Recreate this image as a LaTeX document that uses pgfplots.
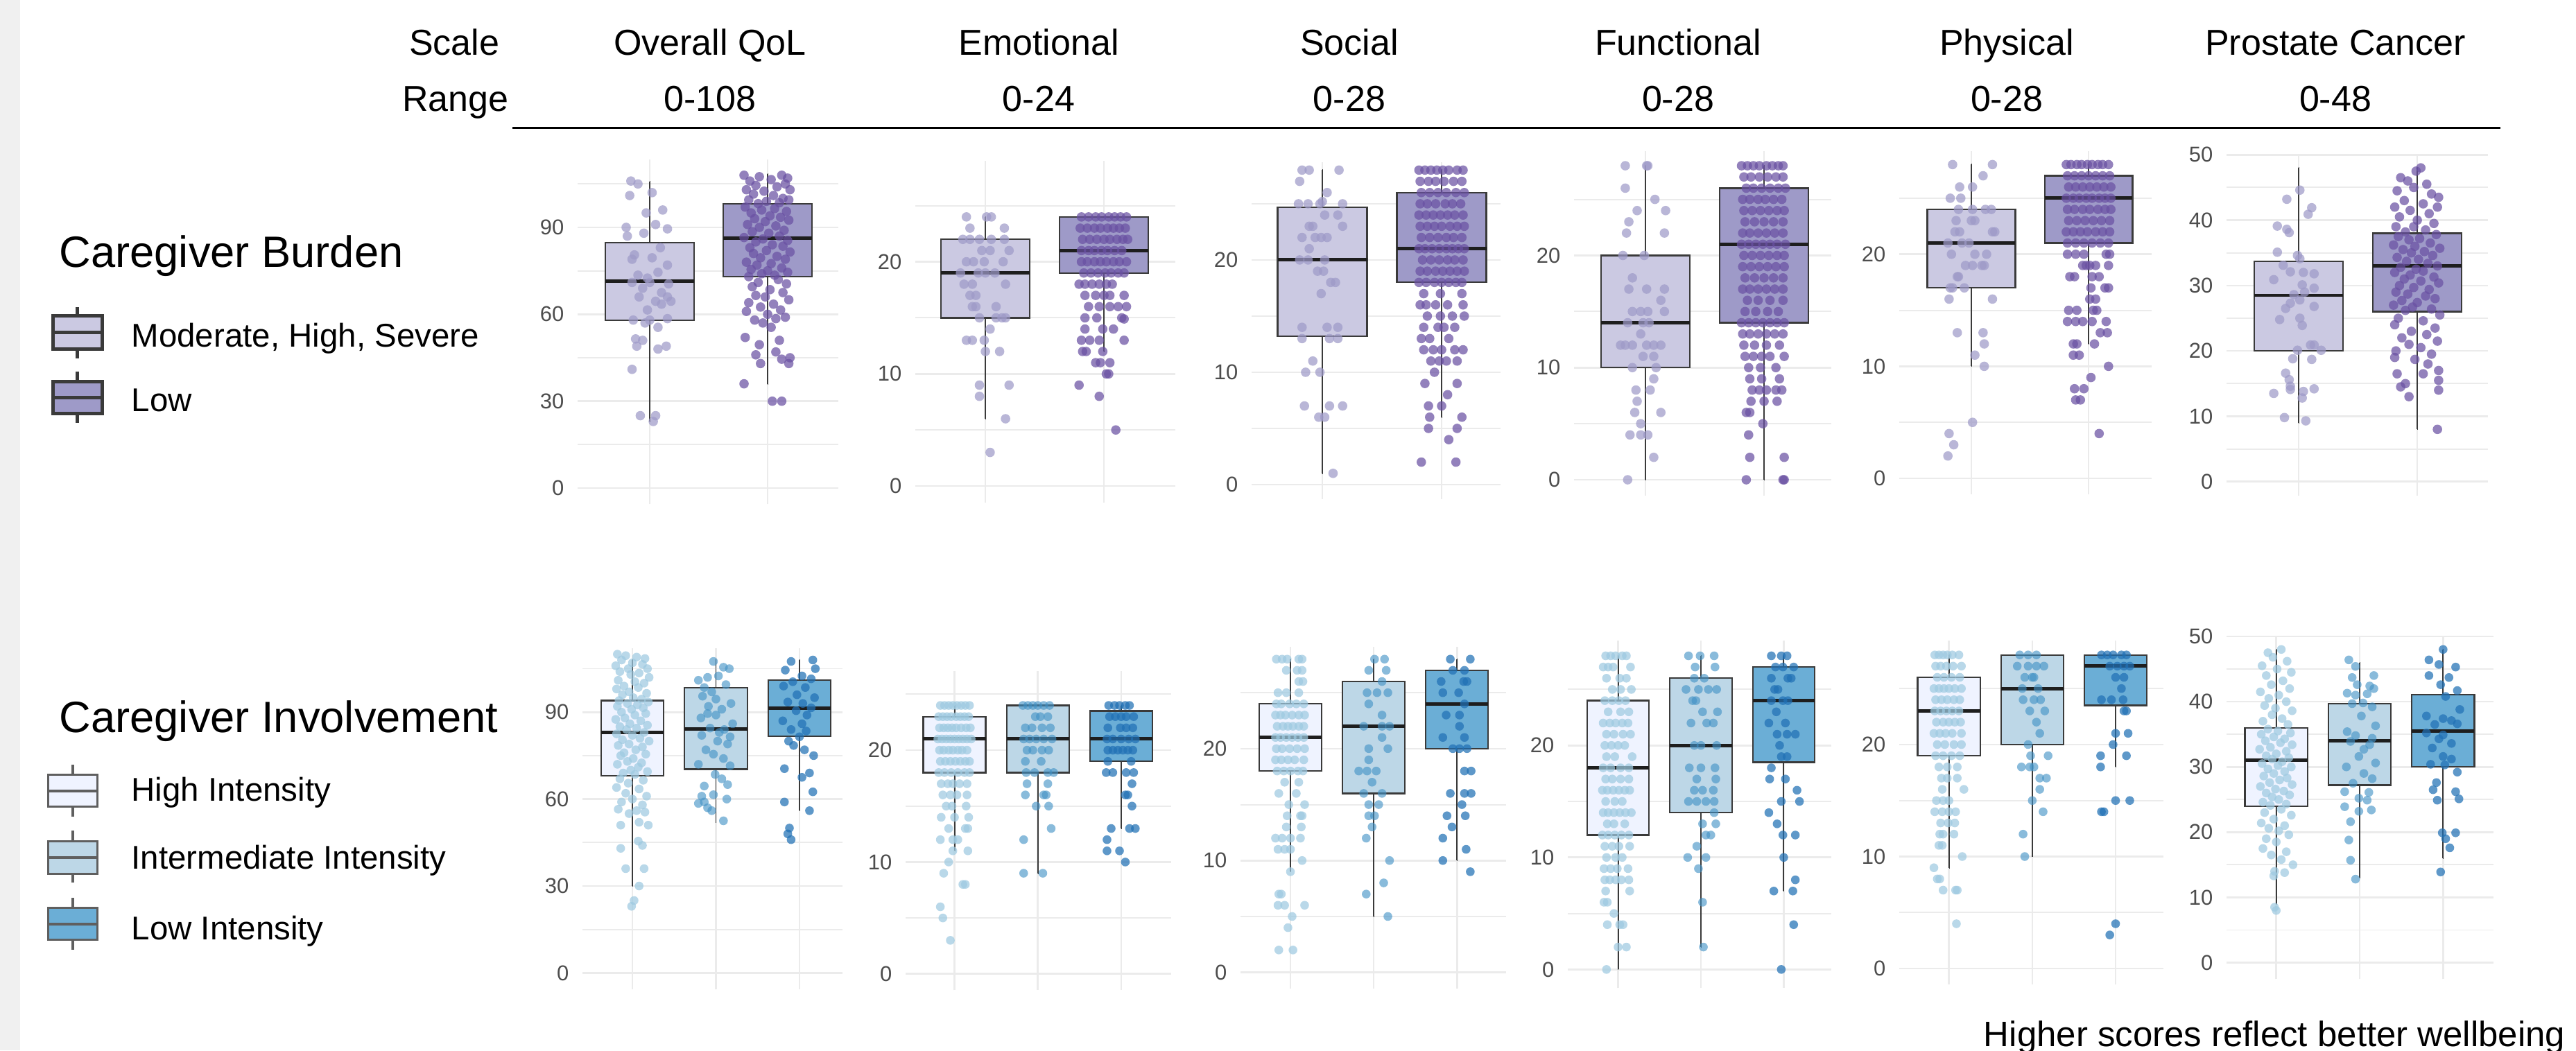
\documentclass[border=0pt]{standalone}
\usepackage{fontspec}
\setmainfont{Liberation Sans}
\usepackage{pgfplots}
\pgfplotsset{compat=1.18}
\usepgfplotslibrary{statistics}
\definecolor{gridc}{HTML}{EBEBEB}
\definecolor{tickc}{HTML}{4D4D4D}
\definecolor{boxc}{HTML}{3A3A3A}
\definecolor{medc}{HTML}{1E1E1E}
\definecolor{keyA}{HTML}{3A3A3A}
\definecolor{keyB}{HTML}{5F5F5F}
\definecolor{stripc}{HTML}{F0F0F0}
\definecolor{fMod}{HTML}{CBC9E2}
\definecolor{fLow}{HTML}{9E9AC8}
\definecolor{pMod}{HTML}{9E9AC8}
\definecolor{pLow}{HTML}{6A51A3}
\definecolor{fHi}{HTML}{EFF3FF}
\definecolor{fInt}{HTML}{BDD7E7}
\definecolor{fLo}{HTML}{6BAED6}
\definecolor{pHi}{HTML}{9ECAE1}
\definecolor{pInt}{HTML}{4292C6}
\definecolor{pLo}{HTML}{2171B5}
\newcommand\hdr{\fontsize{14.8}{16}\selectfont}
\newcommand\lgt{\fontsize{18}{20}\selectfont}
\newcommand\lgl{\fontsize{13.5}{15}\selectfont}
\newcommand\tickf{\fontsize{8.8}{9}\selectfont}
\newcommand\foot{\fontsize{14.5}{16}\selectfont}
\pgfplotsset{
 boxplot/draw direction=y,
 boxplot/box extend=0.75,
 boxplot/every median/.style={draw=medc, line width=1.4pt},
 boxplot/every whisker/.style={line width=0.55pt},
 qp/.style={scale only axis, anchor=south west, axis line style={draw=none},
  tick style={draw=none}, major tick length=0pt, minor tick length=0pt,
  xmajorgrids, ymajorgrids, yminorgrids,
  major grid style={draw=gridc, line width=0.75pt},
  minor grid style={draw=gridc, line width=0.55pt},
  xticklabels={},
  yticklabel style={font=\tickf, text=tickc, inner sep=0pt, xshift=-1.9mm},
  /pgf/number format/assume math mode=true},
 q30/.style={ytick={0,30,60,90}, minor ytick={15,45,75,105}},
 q10/.style={ytick={0,10,20}, minor ytick={5,15,25}},
 q50/.style={ytick={0,10,20,30,40,50}, minor ytick={5,15,25,35,45}},
 pts/.style n args={2}{only marks, mark=*, color=#1, mark options={solid, draw=#1, fill=#1, line width=0pt, draw opacity=0, fill opacity=#2}},
 pM/.style={pts={pMod}{0.72}, mark size=0.68mm},
 pL/.style={pts={pLow}{0.72}, mark size=0.68mm},
 pH/.style={pts={pHi}{0.72}, mark size=0.63mm},
 pI/.style={pts={pInt}{0.62}, mark size=0.63mm},
 pO/.style={pts={pLo}{0.72}, mark size=0.63mm},
}
\newcommand\bp[7]{\addplot[draw=boxc, line width=0.65pt, fill=#7, boxplot prepared={draw direction=y, draw position=#1, lower whisker=#2, lower quartile=#3, median=#4, upper quartile=#5, upper whisker=#6, box extend=0.75, whisker extend=0.001}] coordinates {};}
\begin{document}
\begin{tikzpicture}
\useasboundingbox (0,0) rectangle (371.5mm,-151.5mm);
\clip (0,0) rectangle (371.5mm,-151.5mm);
\begin{scope}[x=0.1mm,y=-0.1mm]
\fill[white] (0,0) rectangle (3715,1515);
\fill[stripc] (0,0) rectangle (29,1515);
\node[anchor=base east, inner sep=0pt, font=\hdr] at (721,79) {Scale};
\node[anchor=base east, inner sep=0pt, font=\hdr] at (734,160) {Range};
\foreach \cx/\nm/\rg in {1024/Overall QoL/0-108, 1498/Emotional/0-24, 1946/Social/0-28, 2420/Functional/0-28, 2894/Physical/0-28, 3368/Prostate Cancer/0-48}{
 \node[anchor=base, inner sep=0pt, font=\hdr] at (\cx,79) {\nm};
 \node[anchor=base, inner sep=0pt, font=\hdr] at (\cx,160) {\rg};
}
\draw[line width=0.3mm] (739,184) -- (3606,184);
\node[anchor=base west, inner sep=0pt, font=\lgt] at (85,385) {Caregiver Burden};
\draw[line width=0.5mm, keyA, fill=fMod] (76,455) rectangle (147,503);
\draw[line width=0.5mm, keyA] (76,479) -- (147,479) (111.5,443) -- (111.5,455) (111.5,503) -- (111.5,517);
\draw[line width=0.5mm, keyA, fill=fLow] (76,550) rectangle (147,596);
\draw[line width=0.5mm, keyA] (76,573) -- (147,573) (111.5,536) -- (111.5,550) (111.5,596) -- (111.5,610);
\node[anchor=base west, inner sep=0pt, font=\lgl] at (189,500) {Moderate, High, Severe};
\node[anchor=base west, inner sep=0pt, font=\lgl] at (189,593) {Low};
\node[anchor=base west, inner sep=0pt, font=\lgt] at (85,1056) {Caregiver Involvement};
\draw[line width=0.33mm, keyB, fill=fHi] (69.5,1117.5) rectangle (140.5,1163.5);
\draw[line width=0.33mm, keyB] (69.5,1141) -- (140.5,1141) (105,1103) -- (105,1117.5) (105,1163.5) -- (105,1178);
\draw[line width=0.33mm, keyB, fill=fInt] (69.5,1213.5) rectangle (140.5,1260.5);
\draw[line width=0.33mm, keyB] (69.5,1237) -- (140.5,1237) (105,1198) -- (105,1213.5) (105,1260.5) -- (105,1273);
\draw[line width=0.33mm, keyB, fill=fLo] (69.5,1309.5) rectangle (140.5,1355.5);
\draw[line width=0.33mm, keyB] (69.5,1333) -- (140.5,1333) (105,1295) -- (105,1309.5) (105,1355.5) -- (105,1370);
\node[anchor=base west, inner sep=0pt, font=\lgl] at (189,1155) {High Intensity};
\node[anchor=base west, inner sep=0pt, font=\lgl] at (189,1253) {Intermediate Intensity};
\node[anchor=base west, inner sep=0pt, font=\lgl] at (189,1355) {Low Intensity};
\node[anchor=base east, inner sep=0pt, font=\foot] at (3700,1509) {Higher scores reflect better wellbeing};
\end{scope}

% ===== T1 Overall QoL
\begin{axis}[qp, q30, at={(83.3mm,-72.7mm)}, width=37.6mm, height=49.7mm, xmin=0.388, xmax=2.6, ymin=-5.5, ymax=113.45, xtick={1,2}]
\bp{1}{23}{58}{71.4}{84.7}{105.8}{fMod}
\bp{2}{36}{73}{86.3}{98.1}{108.5}{fLow}
\addplot[pM] coordinates {(0.84,106)(0.90,105)(0.83,101)(1.02,102)(0.97,95)(1.11,96)(0.80,90)(1.05,91)(1.15,89.5)(0.81,87)(0.95,88)(1.09,83)(0.85,79)(0.87,80.5)(1.02,79.5)(1.15,77)(0.90,73.5)(0.98,72.5)(1.07,74.5)(0.85,71)(1.0,71)(1.16,70.5)(0.94,69)(1.10,67.5)(0.91,66)(1.15,66)(1.10,63.5)(1.05,64.5)(1.18,64.5)(0.98,61.5)(0.86,58)(1.0,58)(1.15,58.5)(0.96,57)(1.07,55.5)(0.88,51.5)(0.94,51)(0.89,49)(1.07,48)(1.14,49)(0.85,41)(0.92,25)(1.05,25)(1.03,23)};
\addplot[pL] coordinates {(1.80,108)(1.93,107.5)(2.12,108)(2.17,107)(1.85,106)(2.03,106.5)(2.15,105)(1.90,104.5)(2.08,104)(1.82,103)(1.97,102.5)(2.19,103)(1.88,101.5)(2.05,101)(2.13,100)(1.84,99.5)(1.99,99)(2.10,98.5)(2.18,99.5)(1.92,98.2)
(1.81,97)(2.06,96.5)(1.95,96)(2.16,95.5)(1.86,95)(2.02,94)(2.11,93.5)(1.89,93)(1.98,92)(2.18,92.5)(1.83,91)(2.07,90.5)(1.93,90)(2.14,89)(1.87,88.5)(2.01,88)(2.10,87)(1.80,86.5)(1.96,86)(2.17,85.5)(1.90,85)(2.04,84)(2.13,83.5)(1.85,83)(1.99,82)(2.19,81.5)(1.88,81)(2.08,80)(1.94,79.5)(2.15,79)(1.82,78)(2.03,77.5)(1.91,77)(2.12,76)(1.86,75.5)(2.00,75)(2.17,74.5)(1.95,74)(2.06,73.5)(1.84,73)
(2.09,72)(1.92,71)(2.16,70.5)(1.87,69.5)(2.02,68.5)(2.13,67.5)(1.90,66.5)(1.98,66)(2.18,65)(1.84,64)(2.05,63.5)(1.94,62.5)(2.11,61.5)(1.82,61)(2.00,60)(2.15,59)(1.89,58)(2.07,58.5)(1.96,57)(2.03,55.5)(1.81,52)(2.10,51)(1.93,49.5)(2.07,47)(1.90,46)(2.12,44.5)(2.19,45)(2.18,43)(1.94,43)(1.80,36)(2.04,30)(2.12,30)};
\end{axis}

% ===== T2 Emotional
\begin{axis}[qp, q10, at={(132.0mm,-72.5mm)}, width=37.5mm, height=49.3mm, xmin=0.409, xmax=2.602, ymin=-1.48, ymax=29.0, xtick={1,2}]
\bp{1}{6}{15}{19}{22}{24}{fMod}
\bp{2}{12}{19}{21}{24}{24}{fLow}
\addplot[pM] coordinates {(0.84,24)(1.01,24)(1.05,24)(0.87,23)(1.16,23)(0.81,22)(0.87,22)(0.95,22)(1.05,22)(1.16,22)(0.97,21)(1.04,21)(1.20,21)(0.84,20)(0.90,20)(0.99,20)(1.15,20)(0.79,19)(0.94,19)(1.0,19)(1.08,19)(0.82,18)(0.89,18)(1.17,18)(0.87,17)(0.92,17)(0.89,16)(1.09,16)(0.92,16)(0.95,15)(1.09,15)(1.14,15)(1.17,15)(1.04,14)(0.84,13)(0.89,13)(0.99,13)(1.0,12)(1.12,12)(0.95,9)(1.2,9)(0.95,8)(1.17,6)(1.04,3)};
\addplot[pL] coordinates {(1.81,24)(1.87,24)(1.93,24)(1.98,24)(2.04,24)(2.09,24)(2.14,24)(2.19,24)
(1.80,23)(1.86,23)(1.92,23)(1.97,23)(2.03,23)(2.08,23)(2.13,23)(2.18,23)
(1.82,22)(1.88,22)(1.94,22)(2.0,22)(2.05,22)(2.11,22)(2.16,22)(2.2,22)
(1.81,21)(1.87,21)(1.92,21)(1.98,21)(2.03,21)(2.09,21)(2.15,21)
(1.81,20)(1.86,20)(1.92,20)(1.97,20)(2.02,20)(2.08,20)(2.13,20)(2.19,20)
(1.83,19)(1.89,19)(1.95,19)(2.01,19)(2.06,19)(2.12,19)(2.17,19)
(1.79,18)(1.84,18)(1.9,18)(1.96,18)(2.02,18)(2.07,18)
(1.84,17)(1.93,17)(2.0,17)(2.05,17)(2.17,17)
(1.87,16)(1.96,16)(2.05,16)(2.12,16)(2.19,16)
(1.84,15)(1.94,15)(2.15,15)(2.17,14.9)
(1.84,14)(1.99,14)(2.08,14)
(1.81,13)(1.88,13)(1.96,13)(2.17,13)
(1.82,12)(1.85,12)(1.99,12)
(1.93,11)(1.97,11)(2.05,11)
(2.02,10)(2.04,10)(1.79,9)(1.96,8)(2.1,5)};
\end{axis}

% ===== T3 Social
\begin{axis}[qp, q10, at={(180.5mm,-72.0mm)}, width=35.9mm, height=48.6mm, xmin=0.407, xmax=2.494, ymin=-1.3, ymax=28.7, xtick={1,2}]
\bp{1}{1}{13.2}{20}{24.7}{28}{fMod}
\bp{2}{6}{18}{21}{26}{28}{fLow}
\addplot[pM] coordinates {(0.83,28)(0.89,28)(1.14,28)(0.81,27)(1.04,26)(0.80,25)(0.88,25)(0.98,25)(1.0,25.2)(1.17,25)(1.02,24)(1.13,24)(0.89,23)(0.92,23)(1.17,23)(0.83,22)(0.94,22)(0.99,22)(1.04,22)(0.89,21)(0.81,20)(0.88,20)(1.02,20)(0.96,19)(1.01,19)(1.07,18)(1.11,18)(0.99,17)(0.83,14)(1.04,14)(1.13,14)(0.83,13)(1.06,13)(1.13,13)(0.92,11)(0.86,10)(0.98,10)(0.85,7)(1.06,7)(1.17,7)(0.97,6)(1.02,6)(1.09,1)};
\addplot[pL] coordinates {(1.81,28)(1.86,28)(1.91,28)(1.96,28)(2.01,28)(2.06,28)(2.13,28)(2.18,28)
(1.82,27)(1.89,27)(1.95,27)(2.02,27)(2.1,27)(2.17,27)
(1.83,26)(1.9,26)(1.97,26)(2.04,26)(2.12,26)(2.19,26)
(1.82,25)(1.88,25)(1.95,25)(2.03,25)(2.09,25)(2.16,25)
(1.81,24)(1.87,24)(1.93,24)(1.99,24)(2.05,24)(2.11,24)(2.18,24)
(1.82,23)(1.88,23)(1.94,23)(2.0,23)(2.07,23)(2.13,23)(2.19,23)
(1.83,22)(1.9,22)(1.97,22)(2.04,22)(2.1,22)(2.17,22)
(1.81,21)(1.86,21)(1.92,21)(1.98,21)(2.04,21)(2.09,21)(2.14,21)(2.19,21)
(1.84,20)(1.91,20)(1.98,20)(2.05,20)(2.11,20)(2.18,20)
(1.82,19)(1.88,19)(1.95,19)(2.01,19)(2.07,19)(2.13,19)(2.19,19)
(1.81,18)(1.87,18)(1.94,18)(2.0,18)(2.06,18)(2.12,18)(2.17,18)
(1.85,17)(1.99,17)(2.17,17)
(1.82,16)(1.87,16)(1.95,16)(2.05,16)(2.18,16)
(1.88,15)(1.99,15)(2.09,15)(2.19,15)
(1.85,14)(1.97,14)(2.02,14)(2.11,14)
(1.83,13)(1.9,13)(2.06,13)
(1.85,12)(1.93,12)(2.0,12)(2.11,12)(2.18,12)
(1.91,11)(1.98,11)(2.04,11)(2.13,11)
(1.94,10)(1.86,9)(2.13,9)(2.05,8)(1.89,7)(2.0,7)(1.9,6)(2.17,6)(1.89,5)(2.13,5)(2.06,4)(1.83,2)(2.12,2)};
\end{axis}

% ===== T4 Functional
\begin{axis}[qp, q10, at={(227.0mm,-71.5mm)}, width=37.1mm, height=49.7mm, xmin=0.398, xmax=2.567, ymin=-1.42, ymax=29.3, xtick={1,2}]
\bp{1}{0}{10}{14}{20}{28}{fMod}
\bp{2}{0}{14}{21}{26}{28}{fLow}
\addplot[pM] coordinates {(0.83,28)(1.01,28)(1.02,28)(0.83,26)(1.08,25)(0.93,24)(1.17,24)(0.86,23)(0.84,22)(1.16,22)(0.81,20)(0.99,20)(0.89,18)(0.86,17)(1.01,17)(1.16,17)(1.13,16)(0.89,15)(0.96,15)(1.02,15)(1.16,15)(0.85,14)(0.98,14)(1.03,14)(0.96,13)(0.79,12)(0.83,12)(0.89,12)(1.01,12)(1.07,12)(1.13,12)(0.98,11)(1.07,11)(0.89,10)(1.09,10)(1.07,9)(0.92,8)(1.04,8)(0.93,7)(0.91,6)(1.13,6)(0.96,5)(0.87,4)(0.96,4)(1.02,4)(1.07,2)(0.85,0)};
\addplot[pL] coordinates {(1.81,28)(1.86,28)(1.91,28)(1.96,28)(2.02,28)(2.07,28)(2.12,28)(2.16,28)
(1.83,27)(1.89,27)(1.96,27)(2.03,27)(2.1,27)(2.16,27)
(1.85,26)(1.91,26)(1.98,26)(2.05,26)(2.12,26)(2.18,26)
(1.82,25)(1.88,25)(1.95,25)(2.01,25)(2.08,25)(2.15,25)
(1.83,24)(1.9,24)(1.97,24)(2.04,24)(2.11,24)(2.17,24)
(1.84,23)(1.92,23)(2.0,23)(2.08,23)(2.16,23)
(1.82,22)(1.88,22)(1.95,22)(2.02,22)(2.09,22)(2.16,22)
(1.81,21)(1.87,21)(1.93,21)(1.99,21)(2.05,21)(2.11,21)(2.18,21)
(1.83,20)(1.9,20)(1.97,20)(2.04,20)(2.11,20)(2.17,20)
(1.82,19)(1.89,19)(1.96,19)(2.03,19)(2.1,19)(2.17,19)
(1.84,18)(1.92,18)(2.0,18)(2.08,18)(2.16,18)
(1.82,17)(1.88,17)(1.95,17)(2.02,17)(2.09,17)(2.16,17)
(1.86,16)(1.95,16)(2.05,16)(2.16,16)
(1.84,15)(1.93,15)(2.03,15)(2.12,15)
(1.81,14)(1.87,14)(1.93,14)(1.99,14)(2.05,14)(2.11,14)(2.17,14)
(1.82,13)(1.88,13)(1.95,13)(2.02,13)(2.09,13)(2.16,13)
(1.83,12)(1.92,12)(2.02,12)(2.13,12)
(1.84,11)(1.91,11)(1.98,11)(2.05,11)(2.17,11)
(1.87,10)(1.97,10)(2.1,10)
(1.88,9)(1.98,9)(2.13,9)
(1.9,8)(1.96,8)(2.02,8)(2.1,8)(2.15,8)
(1.89,7)(2.0,7)(2.11,7)
(1.85,6)(1.88,6)(1.99,5)(1.87,4)(1.88,2)(2.17,2)(1.85,0)(2.16,0)(2.17,0)};
\end{axis}

% ===== T5 Physical
\begin{axis}[qp, q10, at={(273.9mm,-71.3mm)}, width=36.4mm, height=49.5mm, xmin=0.385, xmax=2.538, ymin=-1.42, ymax=29.2, xtick={1,2}]
\bp{1}{10}{17}{21}{24}{28}{fMod}
\bp{2}{12}{21}{25}{27}{28}{fLow}
\addplot[pM] coordinates {(0.84,28)(1.18,28)(1.10,27)(0.90,26)(1.01,26)(0.82,25)(0.91,25)(0.89,24)(1.01,24)(1.12,24)(1.17,24)(0.87,23)(1.0,23)(1.03,23)(0.86,22)(0.90,22)(1.18,22)(1.2,22)(0.80,21)(0.92,21)(0.98,21)(0.83,20)(1.03,20)(1.13,20)(0.95,19)(1.01,19)(1.09,19)(1.11,19)(0.88,18)(0.89,18)(0.82,17)(0.84,17)(0.94,17)(0.81,16)(1.18,16)(0.88,13)(1.10,13)(1.11,12)(1.03,11)(1.11,10)(1.01,5)(0.81,4)(0.85,3)(0.80,2)};
\addplot[pL] coordinates {(1.81,28)(1.85,28)(1.9,28)(1.94,28)(1.99,28)(2.03,28)(2.08,28)(2.12,28)(2.17,28)
(1.82,27)(1.88,27)(1.94,27)(2.0,27)(2.06,27)(2.12,27)(2.18,27)
(1.83,26)(1.89,26)(1.95,26)(2.01,26)(2.07,26)(2.13,26)(2.19,26)
(1.81,25)(1.87,25)(1.92,25)(1.98,25)(2.03,25)(2.09,25)(2.14,25)(2.19,25)
(1.82,24)(1.88,24)(1.95,24)(2.01,24)(2.08,24)(2.14,24)(2.19,24)
(1.83,23)(1.9,23)(1.97,23)(2.04,23)(2.11,23)(2.18,23)
(1.81,22)(1.87,22)(1.93,22)(1.99,22)(2.06,22)(2.12,22)(2.18,22)
(1.82,21)(1.89,21)(1.96,21)(2.03,21)(2.1,21)(2.17,21)
(1.82,20)(1.89,20)(1.96,20)(2.15,20)(2.18,20)
(1.95,19)(1.98,19)(2.01,19)(2.06,19)(2.17,19)
(1.84,18)(1.88,18)(2.03,18)(2.09,18)
(2.02,17)(2.14,17)(2.17,17)
(2.01,16)(2.06,16)
(1.83,15)(1.9,15)(2.04,15)(2.07,15)
(1.82,14)(1.89,14)(1.95,14)(2.03,14)(2.15,14)
(2.1,13)(2.16,13)
(1.87,12)(1.9,12)(2.05,12)
(1.87,11)(1.92,11)
(2.17,10)(2.02,9)(1.88,8)(1.96,8)(1.89,7)(1.93,7)(2.09,4)};
\end{axis}

% ===== T6 Prostate Cancer
\begin{axis}[qp, q50, at={(321.1mm,-71.5mm)}, width=37.7mm, height=49.2mm, xmin=0.392, xmax=2.596, ymin=-2.15, ymax=50.03, xtick={1,2}]
\bp{1}{9}{20}{28.5}{33.7}{48}{fMod}
\bp{2}{8}{26}{33}{38}{48}{fLow}
\addplot[pM] coordinates {(1.01,44.6)(0.90,43.2)(1.11,41.9)(1.08,40.9)(0.82,39.1)(0.90,38.6)(0.92,38.1)(0.82,35.1)(0.99,34.6)(1.01,34.1)(0.87,33.1)(0.93,32.1)(1.04,32)(1.13,31.8)(0.79,30.9)(1.03,30.1)(1.13,29.6)(1.05,29)(0.96,28.6)(0.93,27.3)(1.01,27.8)(0.89,26.5)(1.13,26.8)(0.84,24.8)(1.01,25)(1.03,23.9)(0.99,20.1)(1.10,20.9)(1.19,20.1)(1.13,20.9)(0.95,18.8)(1.11,18.7)(0.89,16.6)(0.92,15.6)(0.93,14.6)(0.79,13.5)(0.93,14.1)(1.04,13.8)(1.13,14.2)(1.03,12.8)(0.88,9.8)(1.06,9.3)};
\addplot[pL] coordinates {(2.03,48)(1.99,47.5)(1.86,46.5)(1.92,46)(2.08,45.5)(1.97,45)(1.83,44.5)(2.12,44)(2.18,43.5)(1.89,43)(2.05,42.5)(1.81,42)(2.17,42)(1.94,41.5)(2.1,41)(1.85,40.5)(2.0,40)(2.14,39.5)(1.82,39)(1.97,39)(2.07,38.5)(1.9,38.2)
(2.16,37.8)(1.84,37.5)(2.02,37.2)(1.93,37)(2.11,36.5)(1.8,36.2)(1.98,36)(2.19,35.7)(1.88,35.5)(2.06,35.2)(1.95,35)(2.13,34.6)(1.83,34.3)(2.01,34)(1.91,33.7)(2.09,33.4)(2.17,33)(1.86,32.8)(1.99,32.5)(2.05,32.2)(1.81,32)(1.94,31.6)(2.14,31.3)(1.89,31)(2.03,30.7)(2.18,30.4)(1.85,30)(1.97,29.7)(2.1,29.4)(1.82,29)(1.92,28.7)(2.07,28.4)(2.15,28)(1.87,27.7)(2.0,27.4)(1.8,27)(1.96,26.7)(2.12,26.4)(1.9,26.2)
(2.19,25.5)(1.84,25)(2.05,24.6)(1.81,24)(2.15,23.5)(1.95,23)(2.08,22.5)(1.87,22)(2.17,21.5)(1.93,21)(2.03,20.5)(1.82,20)(2.12,19.5)(1.81,19)(1.98,18.7)(2.09,18)(2.18,17)(2.05,16.5)(2.18,15.5)(1.83,16.5)(1.86,14.5)(1.9,15)(2.18,14)(1.93,13)(2.17,8)};
\end{axis}

% ===== B1 Overall QoL
\begin{axis}[qp, q30, at={(84.0mm,-142.7mm)}, width=37.5mm, height=49.2mm, xmin=0.402, xmax=3.515, ymin=-5.65, ymax=112.06, xtick={1,2,3}]
\bp{1}{30}{68}{83}{94}{108}{fHi}
\bp{2}{52}{70.3}{84.2}{98.4}{108}{fInt}
\bp{3}{56}{81.7}{91.3}{101.1}{108}{fLo}
\addplot[pH] coordinates {(0.82,110)(0.92,109.5)(1.05,109)(1.15,108.5)(0.87,108)(1.0,107)(1.12,106.5)(0.8,106)(0.95,105)(1.18,105)(0.85,104)(1.08,103.5)(0.98,103)(1.2,102)(0.83,101)(1.03,100.5)(1.14,100)(0.9,99)(1.07,98.5)(0.81,98)(0.96,97)(1.17,96.5)(0.88,96)(1.01,95)(1.11,94.5)(0.84,94)
(1.19,93.5)(0.94,93)(1.06,92.5)(0.82,92)(1.13,91.5)(0.99,91)(0.87,90)(1.16,89.5)(1.03,89)(0.91,88)(0.8,87.5)(1.1,87)(0.97,86)(1.18,85.5)(0.85,85)(1.05,84.5)(0.93,84)(1.14,83)(0.81,82.5)(1.0,82)(1.09,81)(0.88,80.5)(1.2,80)(0.96,79)(0.83,78.5)(1.12,78)(1.04,77)(0.9,76)(1.16,75.5)(0.86,75)(1.01,74)(0.94,73)(1.11,72.5)(0.82,72)(1.07,71)(0.98,70)(1.18,69.5)(0.89,69)(1.03,68.5)
(0.85,67)(1.13,66.5)(0.95,65.5)(0.81,64)(1.08,63.5)(0.92,62)(1.17,61)(1.0,60)(0.87,59)(1.12,58)(0.83,56.5)(1.05,56)(0.96,55)(1.15,55.5)(0.86,51)(1.19,51)(1.08,52)(0.86,43)(1.12,44)(1.07,45.5)(0.92,36)(1.14,36)(1.08,30)(1.02,25)(0.99,23)};
\addplot[pI] coordinates {(1.97,107.5)(2.16,105)(2.09,105.5)(1.9,102)(2.03,102.5)(1.79,101)(2.12,99.5)(1.86,98.5)(1.95,97)(1.84,95.5)(2.0,94.5)(2.18,93)(1.91,92)(2.07,91)(1.9,89.5)(2.0,89)(1.82,88)(2.2,86)(1.93,84.5)(2.1,84)(2.04,83)(1.83,82)(2.17,81.5)(2.02,80)(2.14,79)(1.88,77)(1.97,75.5)(2.09,74)(1.79,72)(2.17,71.5)(1.99,68.5)(2.07,67)(1.86,64.5)(2.14,65)(1.97,61.5)(1.83,61)(2.13,60)(1.79,58.5)(1.86,59)(1.9,57)(1.95,56)(2.09,52.5)};
\addplot[pO] coordinates {(2.9,107.5)(3.16,108)(3.19,105)(2.83,104.5)(3.03,102.5)(3.14,101.5)(2.92,100.5)(2.81,99)(3.07,98.5)(2.97,96)(3.18,95)(2.86,93.5)(3.04,93)(3.14,91.5)(2.96,90.5)(3.09,89)(2.8,87)(3.03,86)(2.9,84)(3.08,83.5)(3.0,81.5)(2.87,80)(2.93,78.5)(3.06,77)(3.17,75)(2.82,70.5)(3.12,69)(3.03,67.5)(3.16,62.5)(2.82,59)(3.12,56)(2.88,50)(2.86,48)(2.9,46)};
\end{axis}

% ===== B2 Emotional
\begin{axis}[qp, q10, at={(130.6mm,-142.8mm)}, width=38.3mm, height=46.0mm, xmin=0.413, xmax=3.6, ymin=-1.44, ymax=27.07, xtick={1,2,3}]
\bp{1}{11}{18}{21}{23}{24}{fHi}
\bp{2}{9}{18}{21}{24}{24}{fInt}
\bp{3}{13}{19}{21}{23.5}{24}{fLo}
\addplot[pH] coordinates {(0.83,24)(0.88,24)(0.93,24)(0.98,24)(1.03,24)(1.08,24)(1.13,24)(1.18,24)
(0.81,23)(0.86,23)(0.91,23)(0.96,23)(1.02,23)(1.07,23)(1.12,23)(1.17,23)
(0.82,22)(0.87,22)(0.92,22)(0.97,22)(1.02,22)(1.08,22)(1.14,22)(1.19,22)
(0.8,21)(0.85,21)(0.9,21)(0.95,21)(1.0,21)(1.05,21)(1.1,21)(1.15,21)(1.2,21)
(0.82,20)(0.87,20)(0.93,20)(0.98,20)(1.04,20)(1.09,20)(1.15,20)
(0.83,19)(0.89,19)(0.95,19)(1.01,19)(1.07,19)(1.13,19)(1.18,19)
(0.81,18)(0.88,18)(0.96,18)(1.04,18)(1.12,18)(1.18,18)
(0.84,17)(0.92,17)(0.98,17)(1.06,17)(1.15,17)
(0.86,16)(0.95,16)(1.03,16)(1.15,16)
(0.9,15)(0.97,15)(1.14,15)
(0.84,14)(1.0,14)(1.17,14)
(0.93,13)(1.13,13)(1.16,13)
(0.83,12)(0.98,12)(1.04,12)
(0.98,11)(1.16,11)
(0.93,10)(0.87,9)(1.1,8)(1.13,8)(0.83,6)(0.86,5)(0.95,3)};
\addplot[pI] coordinates {(1.82,24)(1.88,24)(1.94,24)(2.0,24)(2.07,24)(2.14,24)(1.97,23)(2.03,23)(2.12,23)(1.85,22)(1.93,22)(2.05,22)(2.15,22)(1.83,21)(1.9,21)(1.98,21)(2.07,21)(2.17,21)(1.87,20)(1.94,20)(2.05,20)(2.13,20)(2.04,19)(1.85,19)(1.86,18)(1.96,18)(2.12,18)(2.19,18)(1.87,17)(2.12,17)(1.85,16)(2.07,16)(2.1,16)(1.98,15)(2.13,15)(2.16,13)(1.83,12)(1.83,9)(2.06,9)};
\addplot[pO] coordinates {(2.85,24)(2.92,24)(2.98,24)(3.05,24)(3.1,24)(2.86,23)(2.93,23)(3.0,23)(3.06,23)(3.15,23)(2.84,22)(2.99,22)(3.06,22)(3.14,22)(2.83,21)(2.9,21)(3.0,21)(3.09,21)(3.17,21)(2.84,20)(2.9,20)(2.96,20)(3.02,20)(3.08,20)(3.14,20)(2.84,19)(3.12,19)(2.82,18)(2.9,18)(3.06,18)(3.15,18)(3.13,17)(3.05,16)(3.08,16)(3.13,15)(2.88,13)(3.1,13)(3.17,13)(2.83,12)(2.83,11)(2.98,11)(3.05,10)};
\end{axis}

% ===== B3 Social
\begin{axis}[qp, q10, at={(178.9mm,-142.6mm)}, width=38.3mm, height=49.3mm, xmin=0.4, xmax=3.59, ymin=-1.45, ymax=29.1, xtick={1,2,3}]
\bp{1}{9}{18}{21}{24}{28}{fHi}
\bp{2}{5}{16}{22}{26}{28}{fInt}
\bp{3}{10}{20}{24}{27}{28}{fLo}
\addplot[pH] coordinates {(0.83,28)(0.9,28)(0.96,28)(1.1,28)(1.14,28)(0.95,27)(1.08,27)(1.14,27)(1.1,26)(1.15,26)(0.85,25)(0.95,25)(1.1,25)(0.83,24)(0.89,24)(0.99,24)(1.07,24)(1.16,24)(0.82,23)(0.88,23)(0.94,23)(1.02,23)(1.1,23)(1.17,23)(0.84,22)(0.91,22)(0.97,22)(1.03,22)(1.1,22)(1.16,22)(0.82,21)(0.88,21)(0.95,21)(1.02,21)(1.09,21)(1.16,21)(0.83,20)(0.9,20)(0.99,20)(1.08,20)(1.17,20)(0.82,19)(0.89,19)(0.97,19)(1.05,19)(1.16,19)(0.84,18)(0.92,18)(1.0,18)(1.09,18)(1.15,18)(0.93,17)(1.1,17)(0.86,16)(1.07,16)(0.98,15)(1.17,15)(0.96,14)(1.12,14)(1.14,14)(0.95,13)(1.13,13)(0.82,12)(0.9,12)(1.0,12)(1.12,12)(0.85,11)(0.93,11)(1.0,11)(1.14,10)(1.0,9)(0.86,7)(0.89,7)(0.85,6)(0.93,6)(1.17,6)(1.02,5)(0.97,4)(0.86,2)(1.03,2)};
\addplot[pI] coordinates {(2.01,28)(2.13,28)(1.94,27)(2.15,27)(2.1,26)(1.92,25)(2.04,25)(2.17,25)(1.94,24)(2.1,23)(1.88,22)(2.1,22)(2.19,22)(2.1,21)(1.94,20)(2.17,20)(1.94,19)(1.82,18)(1.92,18)(2.03,18)(1.98,17)(1.88,16)(2.1,16)(1.94,15)(2.06,15)(1.94,14)(2.01,14)(1.98,13)(1.91,12)(2.19,10)(2.12,8)(1.91,7)(2.17,5)};
\addplot[pO] coordinates {(2.92,28)(3.16,28)(2.95,27)(3.09,27)(2.81,26)(3.08,26)(3.12,26)(2.83,25)(3.02,25)(3.09,24)(2.87,23)(3.03,23)(3.03,22)(2.83,21)(3.09,21)(2.95,20)(3.03,20)(3.12,20)(3.09,18)(3.17,18)(2.92,16)(3.09,16)(3.17,16)(3.06,15)(2.88,14)(3.1,14)(2.94,13)(2.83,12)(3.11,11)(2.83,10)(3.16,9)};
\end{axis}

% ===== B4 Functional
\begin{axis}[qp, q10, at={(226.1mm,-142.5mm)}, width=38.0mm, height=50.1mm, xmin=0.393, xmax=3.574, ymin=-1.65, ymax=29.36, xtick={1,2,3}]
\bp{1}{0}{12}{18}{24}{28}{fHi}
\bp{2}{2}{14}{20}{26}{28}{fInt}
\bp{3}{7}{18.5}{24}{27}{28}{fLo}
\addplot[pH] coordinates {(0.85,28)(0.91,28)(0.97,28)(1.05,28)(1.1,28)(0.82,27)(0.88,27)(0.94,27)(1.15,27)(0.86,26)(1.02,26)(1.1,26)(0.93,25)(1.03,25)(1.16,25)(0.84,24)(0.93,24)(1.01,24)(1.09,24)(0.88,23)(1.03,23)(1.13,23)(0.82,22)(0.9,22)(0.97,22)(1.05,22)(1.12,22)(0.86,21)(0.95,21)(1.06,21)(1.15,21)(0.84,20)(0.92,20)(1.0,20)(1.08,20)(0.86,19)(0.96,19)(1.17,19)(0.82,18)(0.91,18)(1.03,18)(1.13,18)(0.85,17)(0.93,17)(1.03,17)(1.13,17)(0.81,16)(0.87,16)(0.94,16)(1.01,16)(1.08,16)(1.14,16)(0.85,15)(0.96,15)(1.05,15)(0.82,14)(0.88,14)(0.95,14)(1.02,14)(1.09,14)(1.16,14)(0.87,13)(0.95,13)(1.08,13)(0.81,12)(0.88,12)(0.96,12)(1.04,12)(1.13,12)(0.84,11)(0.93,11)(1.01,11)(1.14,11)(0.86,10)(0.97,10)(1.05,10)(0.83,9)(0.91,9)(0.99,9)(1.12,9)(0.84,8)(0.9,8)(0.97,8)(1.04,8)(1.13,8)(0.85,7)(1.14,7)(0.83,6)(0.87,6)(0.95,5)(0.87,4)(1.02,4)(1.06,4)(1.0,2)(1.1,2)(0.86,0)};
\addplot[pI] coordinates {(1.85,28)(2.16,28)(1.99,28)(1.93,27)(2.17,27)(1.92,26)(2.04,26)(1.82,25)(1.97,25)(2.09,25)(2.19,25)(1.9,24)(1.94,24)(2.02,23)(2.2,23)(1.88,22)(2.07,22)(2.15,22)(1.92,20)(2.0,20)(2.19,20)(1.86,18)(2.0,18)(2.17,18)(1.95,17)(2.18,17)(1.92,16)(2.02,16)(2.15,16)(1.85,15)(1.95,15)(2.06,15)(2.16,15)(2.16,14)(2.02,13)(2.18,13)(2.06,12)(2.12,12)(1.95,11)(1.84,10)(2.06,10)(1.97,9)(2.02,6)(2.03,2)};
\addplot[pO] coordinates {(2.85,28)(2.97,28)(3.04,28)(2.99,27)(3.12,27)(2.9,27)(2.85,26)(3.05,26)(3.09,26)(2.89,25)(2.93,25)(2.85,24)(2.99,24)(3.05,24)(2.91,23)(2.82,22)(3.02,22)(2.92,21)(3.04,21)(3.14,21)(2.95,20)(2.97,19)(3.04,19)(2.85,18)(3.02,17)(2.83,17)(3.16,16)(2.97,15)(3.19,15)(2.82,14)(2.92,13)(2.99,12)(3.14,12)(3.0,10)(3.14,8)(2.88,7)(3.11,7)(3.12,4)(2.97,0)};
\end{axis}

% ===== B5 Physical
\begin{axis}[qp, q10, at={(273.9mm,-142.0mm)}, width=38.1mm, height=49.6mm, xmin=0.404, xmax=3.574, ymin=-1.42, ymax=29.28, xtick={1,2,3}]
\bp{1}{9}{19}{23}{26}{28}{fHi}
\bp{2}{10}{20}{25}{28}{28}{fInt}
\bp{3}{18}{23.5}{27}{28}{28}{fLo}
\addplot[pH] coordinates {(0.83,28)(0.88,28)(0.93,28)(0.98,28)(1.04,28)(1.12,28)(0.84,27)(0.9,27)(0.97,27)(1.05,27)(1.15,27)(0.86,26)(0.94,26)(1.03,26)(1.13,26)(0.82,25)(0.88,25)(0.94,25)(1.0,25)(1.07,25)(1.15,25)(0.84,24)(0.91,24)(0.98,24)(1.06,24)(1.13,24)(0.83,23)(0.9,23)(0.97,23)(1.04,23)(1.12,23)(0.85,22)(0.93,22)(1.0,22)(1.07,22)(1.14,22)(0.82,21)(0.89,21)(0.96,21)(1.04,21)(1.15,21)(0.86,20)(0.95,20)(1.06,20)(1.15,20)(0.84,19)(0.93,19)(1.03,19)(1.13,19)(0.88,18)(0.98,18)(1.1,18)(0.91,17)(0.98,17)(1.1,17)(0.92,16)(1.18,16)(0.85,15)(0.93,15)(1.0,15)(0.83,14)(0.92,14)(1.0,14)(1.08,14)(0.9,13)(0.99,13)(1.07,13)(0.89,12)(0.93,12)(1.06,12)(0.88,11)(0.92,11)(1.16,10)(0.82,9)(0.86,8)(0.89,8)(0.93,7)(1.08,7)(1.1,7)(1.09,4)};
\addplot[pI] coordinates {(1.85,28)(1.95,28)(2.05,28)(1.82,27)(1.95,27)(2.14,27)(2.05,27)(1.91,26)(2.02,26)(2.0,26)(1.88,25)(2.07,25)(1.89,24)(2.02,24)(2.1,24)(1.97,23)(2.15,23)(2.05,22)(2.09,21)(1.95,20)(1.98,19)(2.19,19)(1.87,18)(1.97,18)(2.02,18)(2.09,17)(2.17,17)(2.09,16)(2.0,15)(2.13,14)(1.89,12)(1.91,10)};
\addplot[pO] coordinates {(2.83,28)(2.9,28)(2.97,28)(3.07,28)(3.13,28)(2.93,27)(3.02,27)(3.1,27)(3.17,27)(3.0,26)(3.1,26)(3.07,25)(2.83,24)(2.95,24)(3.09,24)(3.13,23)(3.1,23)(3.0,21)(3.15,21)(2.97,20)(2.82,19)(3.13,19)(2.82,18)(3.0,15)(3.17,15)(2.83,14)(2.86,14)(3.0,4)(2.93,3)};
\end{axis}

% ===== B6 Prostate Cancer
\begin{axis}[qp, q50, at={(321.1mm,-141.2mm)}, width=38.5mm, height=49.5mm, xmin=0.404, xmax=3.604, ymin=-2.49, ymax=50.1, xtick={1,2,3}]
\bp{1}{9}{24}{31}{36}{48}{fHi}
\bp{2}{13}{27.2}{34}{39.7}{46}{fInt}
\bp{3}{16}{30}{35.5}{41.1}{48}{fLo}
\addplot[pH] coordinates {(1.06,48)(0.9,47.5)(0.96,46.8)(1.13,46.2)(0.83,45.5)(1.01,45)(1.18,44.5)(0.88,44)(1.08,43.2)(0.94,42.6)(1.16,42)(0.81,41.5)(1.03,41)(0.91,40.5)(1.12,40)(0.86,39.4)(0.99,39)(1.19,38.6)(0.95,38)(1.07,37.4)(0.84,37)(1.14,36.5)
(0.9,35.8)(1.02,35.5)(1.17,35.2)(0.82,35)(0.97,34.6)(1.1,34.3)(0.87,34)(1.05,33.7)(1.19,33.4)(0.93,33)(0.8,32.7)(1.12,32.4)(1.0,32)(0.88,31.7)(1.15,31.4)(0.95,31.2)(1.07,30.8)(0.83,30.5)(1.02,30.2)(1.18,30)(0.9,29.7)(1.1,29.3)(0.97,29)(0.85,28.6)(1.13,28.3)(1.04,28)(0.92,27.6)(1.19,27.3)(0.81,27)(0.99,26.6)(1.09,26.3)(0.88,26)(1.16,25.7)(0.95,25.4)(1.03,25)(0.84,24.6)(1.12,24.3)(0.93,24.1)
(1.06,23.5)(0.86,23)(1.18,22.6)(0.97,22)(0.82,21.4)(1.1,21)(0.91,20.6)(1.03,20.2)(1.15,19.6)(0.88,19)(1.0,18.5)(0.84,17.5)(1.12,17)(0.94,16.5)(1.06,15.8)(1.2,15)(0.98,14)(1.1,13.8)(0.97,13.3)(0.98,8.5)(1.0,8)};
\addplot[pI] coordinates {(1.87,46.4)(1.95,45.4)(2.17,44)(1.91,43.7)(1.97,42.6)(2.12,42.4)(2.17,42)(1.85,41.3)(1.95,41)(2.09,41.2)(1.91,39.7)(2.04,39.8)(2.15,39.2)(2.02,37.8)(2.19,36.3)(1.85,35.4)(1.95,34.8)(2.15,34.4)(1.89,33.9)(2.12,33.4)(2.05,32.7)(1.99,31.6)(2.19,30.6)(1.84,30)(2.05,29)(2.15,28.2)(1.92,27.5)(1.82,26.2)(2.11,26.1)(1.99,25.2)(2.09,24.9)(1.82,23.9)(1.99,23.2)(2.14,23.4)(1.89,21.6)(1.87,18.8)(1.89,15.7)(1.95,12.8)};
\addplot[pO] coordinates {(3.0,48)(2.83,46.4)(2.95,45.7)(3.15,45.3)(2.83,44)(3.07,43.7)(2.97,42.6)(3.17,41.7)(3.03,40.8)(3.2,38.8)(2.8,37.8)(3.0,37.4)(3.1,37.1)(2.9,36.5)(3.17,36.6)(2.8,35.2)(3.0,34.9)(2.95,34.3)(3.1,33.6)(2.87,32.9)(3.0,31.6)(3.1,31.2)(2.85,30.4)(3.02,30.3)(3.17,29.2)(2.92,27.6)(2.88,26.5)(3.15,26.2)(3.19,25.1)(2.93,24.9)(2.99,19.9)(3.15,19.9)(3.03,19)(3.08,17.6)(2.97,13.9)};
\end{axis}
\end{tikzpicture}
\end{document}
